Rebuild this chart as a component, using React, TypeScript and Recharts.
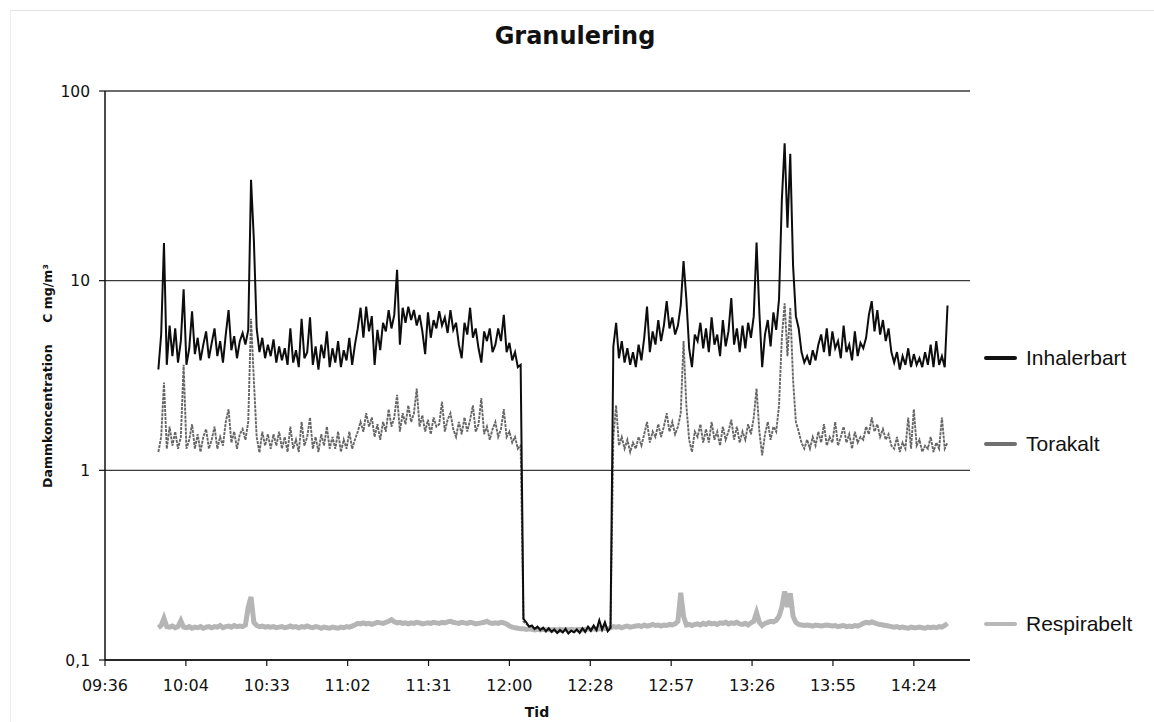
import React from 'react';
import { LineChart, Line, XAxis, YAxis, CartesianGrid } from 'recharts';

// one reading per minute, first one at 09:55 (minutes since midnight)
const START_MINUTE = 595;

// mg/m3, rows of 10 minutes starting 09:55
const inhalerbart = [
  3.4, 5.2, 15.8, 3.6, 5.8, 4.0, 5.6, 3.7, 4.8, 9.0,
  3.6, 4.4, 6.9, 4.1, 5.0, 3.8, 4.6, 5.4, 3.9, 4.7,
  5.6, 4.0, 4.8, 3.7, 5.2, 7.0, 4.3, 5.1, 3.9, 4.8,
  5.3, 4.6, 5.5, 34.0, 16.5, 5.6, 4.2, 5.0, 3.9, 4.6,
  4.0, 4.9, 3.7, 4.5, 3.8, 4.4, 3.6, 5.6, 3.7, 4.3,
  3.5, 6.3, 3.9, 4.2, 6.4, 3.6, 4.5, 3.4, 4.6, 3.9,
  5.4, 3.5, 4.4, 3.7, 4.8, 3.5, 4.3, 3.8, 5.0, 3.6,
  4.6, 5.6, 7.2, 5.0, 7.3, 5.4, 6.5, 3.6, 5.5, 4.3,
  6.0, 5.4, 7.0, 5.6, 6.6, 11.4, 4.6, 7.2, 6.0, 7.3,
  6.2, 7.0, 5.8, 6.6, 5.4, 4.1, 6.8, 5.0, 6.2, 5.6,
  6.9, 5.8, 6.4, 5.3, 7.0, 5.5, 6.0, 4.6, 3.9, 6.0,
  5.2, 7.2, 5.0, 5.6, 4.4, 3.7, 5.4, 4.8, 5.6, 4.2,
  4.6, 5.6, 4.8, 6.6, 4.2, 4.7, 3.8, 4.2, 3.5, 3.6,
  0.165, 0.158, 0.15, 0.152, 0.146, 0.15, 0.144, 0.148, 0.142, 0.147,
  0.141, 0.145, 0.139, 0.144, 0.14, 0.146, 0.138, 0.143, 0.14, 0.145,
  0.139, 0.147, 0.141, 0.15, 0.143, 0.152, 0.144, 0.162, 0.145, 0.158,
  0.142, 0.148, 4.5, 6.0, 3.9, 4.8, 3.7, 4.4, 3.6, 4.2,
  3.5, 4.6, 3.8, 5.0, 7.3, 4.2, 5.4, 4.6, 6.2, 4.8,
  5.8, 7.8, 5.6, 6.4, 5.2, 5.8, 7.4, 12.7, 8.0, 4.4,
  3.5, 5.2, 4.8, 6.0, 4.4, 5.6, 4.2, 6.4, 4.6, 5.2,
  4.0, 6.2, 4.5, 5.4, 8.1, 4.6, 5.6, 4.2, 5.8, 4.4,
  6.0, 5.0, 6.5, 15.9, 6.8, 3.5, 5.2, 6.2, 4.5, 6.8,
  5.5, 8.0, 26.5, 53.0, 19.0, 46.6, 12.0, 6.5, 5.6, 4.2,
  3.7, 4.0, 3.6, 4.3, 3.8, 4.6, 5.2, 4.2, 5.6, 4.0,
  5.4, 4.4, 4.8, 3.9, 5.8, 4.2, 4.6, 3.8, 5.4, 4.0,
  4.7, 4.4, 5.0, 6.6, 7.8, 5.4, 7.0, 5.2, 6.2, 4.8,
  5.6, 4.2, 3.7, 4.2, 3.4, 4.0, 3.6, 4.4, 3.5, 4.1,
  3.6, 3.9, 3.5, 4.2, 3.6, 4.6, 3.5, 4.8, 3.6, 4.0,
  3.5, 7.4,
];

const torakalt = [
  1.25, 1.5, 2.9, 1.3, 1.7, 1.35, 1.6, 1.3, 1.5, 3.6,
  1.3, 1.45, 1.75, 1.3, 1.55, 1.25, 1.5, 1.65, 1.3, 1.45,
  1.7, 1.3, 1.5, 1.35, 1.8, 2.1, 1.4, 1.6, 1.3, 1.55,
  1.65, 1.45, 1.8, 6.3, 3.0, 1.5, 1.24, 1.6, 1.35, 1.55,
  1.3, 1.55, 1.35, 1.6, 1.3, 1.5, 1.25, 1.7, 1.3, 1.45,
  1.25, 1.8, 1.35, 1.5, 1.9, 1.3, 1.5, 1.25, 1.55, 1.35,
  1.7, 1.3, 1.5, 1.3, 1.6, 1.25, 1.45, 1.3, 1.6, 1.3,
  1.45, 1.6, 1.8, 1.6, 2.0, 1.7, 1.9, 1.5, 1.75, 1.45,
  1.8, 1.6, 2.1, 1.7, 1.9, 2.5, 1.6, 2.0, 1.75, 2.2,
  1.8, 2.0, 2.7, 1.7, 1.95, 1.6, 1.85, 1.55, 1.9, 1.7,
  1.75, 2.3, 1.6, 1.85, 2.0, 1.65, 1.5, 1.8, 1.55, 1.9,
  1.6, 1.85, 2.2, 1.6, 1.75, 2.4, 1.55, 1.7, 1.45, 1.65,
  1.8, 1.5, 1.65, 2.1, 1.5, 1.6, 1.4, 1.5, 1.3, 1.35,
  0.16, 0.155, 0.15, 0.15, 0.145, 0.148, 0.143, 0.146, 0.141, 0.145,
  0.14, 0.143, 0.139, 0.142, 0.14, 0.144, 0.138, 0.142, 0.14, 0.143,
  0.139, 0.145, 0.14, 0.148, 0.142, 0.15, 0.143, 0.158, 0.144, 0.155,
  0.142, 0.147, 1.5, 2.2, 1.35, 1.5, 1.3, 1.45, 1.25, 1.4,
  1.3, 1.5, 1.35, 1.55, 1.8, 1.4, 1.6, 1.5, 1.75, 1.5,
  1.7, 2.0, 1.6, 1.8, 1.55, 1.7, 2.0, 4.8, 2.2, 1.45,
  1.25, 1.6, 1.5, 1.75, 1.4, 1.65, 1.4, 1.8, 1.45, 1.6,
  1.35, 1.7, 1.45, 1.6, 1.85, 1.45, 1.7, 1.4, 1.6, 1.45,
  1.75, 1.55, 1.9, 2.7, 1.6, 1.2, 1.55, 1.8, 1.45, 1.7,
  1.6, 2.2, 5.0, 7.6, 4.0, 7.2, 3.0, 1.8, 1.6, 1.4,
  1.3, 1.45, 1.3, 1.5, 1.35, 1.6, 1.4, 1.75, 1.35, 1.5,
  1.4, 1.8, 1.35, 1.5, 1.7, 1.4, 1.55, 1.3, 1.6, 1.4,
  1.5, 1.45, 1.7, 1.55, 1.9, 1.6, 1.75, 1.5, 1.65, 1.45,
  1.55, 1.35, 1.3, 1.5, 1.25, 1.4, 1.3, 1.9, 1.3, 2.1,
  1.35, 1.45, 1.25, 1.35, 1.3, 1.5, 1.25, 1.4, 1.3, 1.9,
  1.3, 1.4,
];

const respirabelt = [
  0.148, 0.152, 0.166, 0.15, 0.149, 0.151, 0.148, 0.15, 0.161, 0.149,
  0.148, 0.15, 0.147, 0.149, 0.148, 0.15, 0.147, 0.149, 0.15, 0.148,
  0.15, 0.149, 0.152, 0.148, 0.15, 0.151, 0.149, 0.152, 0.15, 0.151,
  0.15, 0.153, 0.19, 0.215, 0.158, 0.152, 0.15, 0.151, 0.149, 0.15,
  0.149, 0.15, 0.148, 0.149, 0.15, 0.148, 0.149, 0.151, 0.149, 0.15,
  0.148, 0.15, 0.149, 0.151, 0.149, 0.148, 0.15, 0.149, 0.147, 0.149,
  0.148, 0.147, 0.149, 0.148, 0.147, 0.149, 0.148, 0.15, 0.149, 0.151,
  0.153, 0.156, 0.155, 0.157, 0.155, 0.156, 0.154, 0.156, 0.158, 0.157,
  0.156, 0.158, 0.16, 0.163, 0.159, 0.157, 0.158, 0.156, 0.157, 0.155,
  0.157, 0.156, 0.158, 0.157, 0.155, 0.156, 0.157, 0.156, 0.158, 0.157,
  0.156, 0.158, 0.157, 0.159, 0.16, 0.158, 0.157, 0.156, 0.158, 0.157,
  0.156, 0.158, 0.157, 0.155, 0.156, 0.157, 0.158, 0.16, 0.157, 0.156,
  0.157, 0.156, 0.158, 0.157, 0.155, 0.151, 0.149, 0.148, 0.147, 0.146,
  0.146, 0.145, 0.146, 0.145, 0.144, 0.145, 0.144, 0.145, 0.144, 0.145,
  0.144, 0.145, 0.144, 0.145, 0.144, 0.145, 0.144, 0.145, 0.144, 0.145,
  0.145, 0.144, 0.145, 0.146, 0.145, 0.146, 0.145, 0.146, 0.146, 0.147,
  0.146, 0.148, 0.15, 0.149, 0.15, 0.148, 0.15, 0.151, 0.149, 0.15,
  0.151, 0.152, 0.15, 0.153, 0.151, 0.152, 0.154, 0.152, 0.153, 0.151,
  0.153, 0.152, 0.154, 0.153, 0.155, 0.16, 0.226, 0.17, 0.153, 0.154,
  0.152, 0.154, 0.155, 0.153, 0.156, 0.154, 0.157, 0.155, 0.156, 0.154,
  0.157, 0.156, 0.158, 0.155, 0.157, 0.156, 0.158, 0.155, 0.154, 0.156,
  0.153, 0.157, 0.16, 0.178, 0.158, 0.152, 0.156, 0.158, 0.16, 0.159,
  0.162, 0.17, 0.19, 0.23, 0.19, 0.225, 0.17, 0.158, 0.154, 0.153,
  0.152, 0.153, 0.152, 0.151, 0.153, 0.152, 0.151, 0.152, 0.153, 0.152,
  0.151, 0.152, 0.15, 0.151, 0.152, 0.15, 0.151, 0.15, 0.152, 0.151,
  0.153, 0.156, 0.158, 0.157, 0.159, 0.157, 0.155, 0.154, 0.153, 0.152,
  0.151, 0.15, 0.149, 0.15, 0.148, 0.149, 0.148, 0.147, 0.149, 0.148,
  0.148, 0.149, 0.148, 0.147, 0.149, 0.148, 0.149, 0.148, 0.15, 0.149,
  0.152, 0.156,
];

// x ticks (minutes since midnight) and their labels
const timeTicks = [576, 604.8, 633.6, 662.4, 691.2, 720, 748.8, 777.6, 806.4, 835.2, 864];
const timeLabels = ['09:36', '10:04', '10:33', '11:02', '11:31', '12:00', '12:28', '12:57', '13:26', '13:55', '14:24'];
const concTicks = [0.1, 1, 10, 100];
const concLabels = ['0,1', '1', '10', '100'];

const rows = inhalerbart.map((v, i) => ({
  t: START_MINUTE + i,
  inhalerbart: v,
  torakalt: torakalt[i],
  respirabelt: respirabelt[i],
}));

const tickFont = { fontFamily: 'DejaVu Sans, Verdana, sans-serif', fill: '#111' };

export default function App() {
  const legendItems = [
    { name: 'Inhalerbart', color: '#111111', w: 4, y: 358 },
    { name: 'Torakalt', color: '#707070', w: 4, y: 444 },
    { name: 'Respirabelt', color: '#b8b8b8', w: 4, y: 624 },
  ];

  return (
    <div style={{ position: 'absolute', left: 0, top: 0, width: 1154, height: 722, background: '#fff' }}>
      <div style={{ position: 'absolute', left: 10, top: 10, width: 1144, height: 712, borderTop: '1px solid #e3e3e3', borderLeft: '1px solid #ececec' }} />
      <div style={{ position: 'absolute', left: 0, width: 1150, top: 22, textAlign: 'center', fontFamily: 'DejaVu Sans, Verdana, sans-serif', fontWeight: 'bold', fontSize: 24, color: '#111' }}>
        Granulering
      </div>
      <LineChart width={1154} height={722} data={rows} margin={{ top: 91, right: 184, bottom: 32, left: 45 }}>
        <CartesianGrid vertical={false} stroke="#3a3a3a" strokeWidth={1.3} />
        <XAxis
          type="number"
          dataKey="t"
          domain={[576, 884]}
          ticks={timeTicks}
          interval={0}
          allowDataOverflow
          height={30}
          tickSize={6}
          tickMargin={14}
          tickFormatter={(v: number) => timeLabels[timeTicks.indexOf(v)] ?? ''}
          tick={{ ...tickFont, fontSize: 16 }}
          axisLine={{ stroke: '#111', strokeWidth: 1.5 }}
          tickLine={{ stroke: '#111', strokeWidth: 1.2 }}
        />
        <YAxis
          scale="log"
          domain={[0.1, 100]}
          ticks={concTicks}
          interval={0}
          allowDataOverflow
          width={60}
          tickSize={6}
          tickMargin={9}
          tickFormatter={(v: number) => concLabels[concTicks.indexOf(v)] ?? ''}
          tick={{ ...tickFont, fontSize: 15.5 }}
          axisLine={{ stroke: '#111', strokeWidth: 1.5 }}
          tickLine={{ stroke: '#111', strokeWidth: 1.2 }}
        />
        <Line dataKey="respirabelt" stroke="#b5b5b5" strokeWidth={5} dot={false} isAnimationActive={false} type="linear" />
        <Line dataKey="torakalt" stroke="#666666" strokeWidth={1.9} strokeDasharray="3 1" dot={false} isAnimationActive={false} type="linear" />
        <Line dataKey="inhalerbart" stroke="#0d0d0d" strokeWidth={2} dot={false} isAnimationActive={false} type="linear" />
      </LineChart>
      <div style={{ position: 'absolute', left: 537, top: 712, transform: 'translate(-50%, -50%)', fontFamily: 'DejaVu Sans, Verdana, sans-serif', fontWeight: 'bold', fontSize: 14, color: '#111' }}>
        Tid
      </div>
      <div style={{ position: 'absolute', left: 47, top: 376, transform: 'translate(-50%, -50%) rotate(-90deg)', whiteSpace: 'pre', fontFamily: 'DejaVu Sans, Verdana, sans-serif', fontWeight: 'bold', fontSize: 12.5, color: '#111' }}>
        {'Dammkoncentration     C mg/m³'}
      </div>
      {legendItems.map(item => (
        <div key={item.name} style={{ position: 'absolute', left: 984, top: item.y, transform: 'translateY(-50%)', display: 'flex', alignItems: 'center' }}>
          <div style={{ width: 33, height: item.w, background: item.color, borderRadius: 2 }} />
          <span style={{ marginLeft: 9, fontFamily: 'Liberation Sans, Arial, sans-serif', fontSize: 21, color: '#111' }}>{item.name}</span>
        </div>
      ))}
    </div>
  );
}
